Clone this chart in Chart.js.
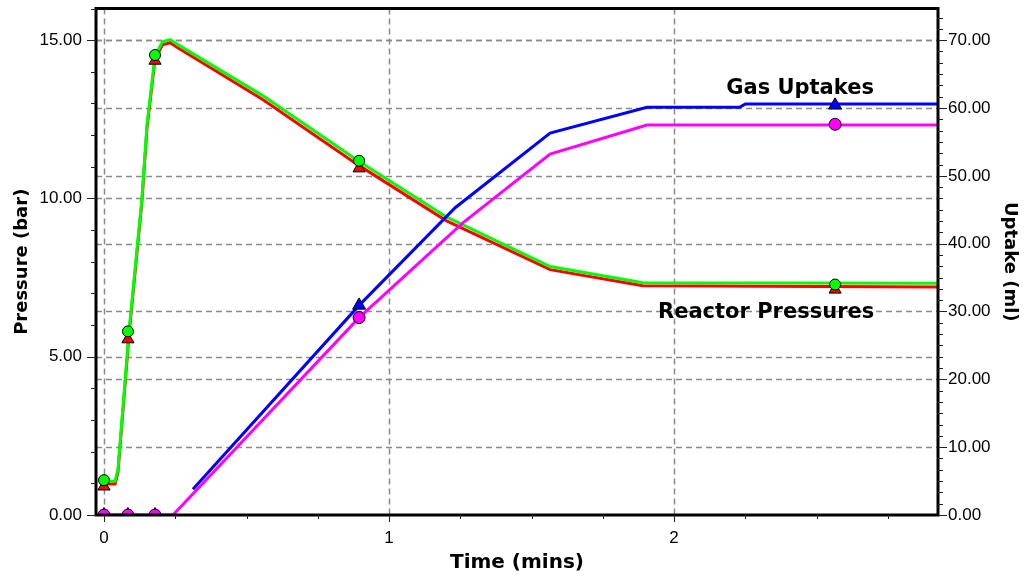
<!DOCTYPE html>
<html>
<head>
<meta charset="utf-8">
<script src="https://cdn.jsdelivr.net/npm/chart.js@4.4.0/dist/chart.umd.min.js"></script>
<style>
  html, body { margin: 0; padding: 0; background: #fff; }
  #contenedor { width: 1026px; height: 578px; }
</style>
</head>
<body>
<div id="contenedor"><canvas id="grafico"></canvas></div>
<script>
// --- Datos ---
// Presión del reactor (bar), eje izquierdo
const tPresion = [0, 0.039, 0.049, 0.088, 0.133, 0.151, 0.179, 0.205, 0.232, 0.26, 0.558, 0.891, 1.2, 1.565, 1.89, 2.926];
const presionVerde = [1.07, 1.07, 1.45, 5.83, 10.0, 12.35, 14.5, 14.95, 15.02, 14.85, 13.24, 11.19, 9.42, 7.85, 7.34, 7.32];
const presionRoja = [0.98, 0.98, 1.35, 5.72, 9.9, 12.25, 14.4, 14.85, 14.92, 14.75, 13.12, 11.06, 9.3, 7.75, 7.24, 7.2];

// Consumo de gas (ml), eje derecho
const tAzul = [0.312, 0.895, 1.232, 1.565, 1.905, 2.23, 2.25, 2.926];
const consumoAzul = [3.8, 30.9, 45.3, 56.3, 60.1, 60.1, 60.6, 60.6];
const tMagenta = [0, 0.242, 0.895, 1.26, 1.565, 1.905, 2.926];
const consumoMagenta = [0, 0, 29.1, 43.1, 53.2, 57.5, 57.5];

// Puntos marcados con símbolo
const tMarcas = [0, 0.084, 0.179, 0.895, 2.565];
const marcasVerde = [1.1, 5.8, 14.53, 11.19, 7.28];
const marcasRoja = [0.9, 5.55, 14.35, 10.95, 7.12];
const marcasAzul = [0, 0, 0, 30.9, 60.4];
const marcasMagenta = [0, 0, 0, 29.1, 57.6];

// Ejes
const ticksMayoresX = [0, 1, 2];
const ticksMayoresPresion = [0, 5, 10, 15];
const ticksMayoresConsumo = [0, 10, 20, 30, 40, 50, 60, 70];
const pasoMenorX = 0.25, pasoMenorPresion = 1, pasoMenorConsumo = 10 / 6;
const rangoX = [-0.0281, 2.926];
const rangoPresion = [0, 16];
const rangoConsumo = [0, 16 * 70 / 15];

const etiquetaGas = { texto: "Gas Uptakes", t: 2.442, v: 62.06 };
const etiquetaReactor = { texto: "Reactor Pressures", t: 2.323, v: 6.21 };

// --- Utilidades ---
const unir = (xs, ys) => xs.map((x, i) => ({ x: x, y: ys[i] }));
const esMayor = (v, lista) => lista.some(m => Math.abs(m - v) < 1e-6);
function generarTicks(paso, min, max) {
    let lista = [];
    for (let i = 0; i * paso <= max + 1e-9; i++) {
        if (i * paso >= min) lista.push(i * paso);
    }
    return lista;
}

const fuenteTicks = { family: "'Liberation Sans', Arial, sans-serif", size: 17 };
const fuenteTitulo = (tam) => ({ family: "'DejaVu Sans', Verdana, sans-serif", size: tam, weight: 'bold' });

// Rejilla, marco, marcas de los ejes y textos
const decoracion = {
    id: 'decoracion',
    beforeDatasetsDraw(chart) {
        const { ctx, chartArea: a, scales } = chart;
        ctx.save();
        ctx.strokeStyle = '#8a8a8a';
        ctx.lineWidth = 1.5;
        ctx.setLineDash([6, 4]);
        ticksMayoresX.forEach(v => {
            let px = Math.round(scales.x.getPixelForValue(v)) + 0.5;
            ctx.beginPath(); ctx.moveTo(px, a.top); ctx.lineTo(px, a.bottom); ctx.stroke();
        });
        ticksMayoresPresion.concat([]).forEach(v => {
            if (v === 0) return;
            let py = Math.round(scales.yPresion.getPixelForValue(v)) + 0.5;
            ctx.beginPath(); ctx.moveTo(a.left, py); ctx.lineTo(a.right, py); ctx.stroke();
        });
        ticksMayoresConsumo.forEach(v => {
            if (v === 0) return;
            let py = Math.round(scales.yConsumo.getPixelForValue(v)) + 0.5;
            ctx.beginPath(); ctx.moveTo(a.left, py); ctx.lineTo(a.right, py); ctx.stroke();
        });
        ctx.restore();
    },
    afterDatasetsDraw(chart) {
        const { ctx, chartArea: a, scales } = chart;
        ctx.save();
        // marco negro
        ctx.strokeStyle = '#000';
        ctx.lineWidth = 3;
        ctx.strokeRect(a.left, a.top, a.right - a.left, a.bottom - a.top);

        // marcas de los ejes
        ctx.lineWidth = 1;
        ctx.strokeStyle = '#222';
        generarTicks(pasoMenorPresion, rangoPresion[0], rangoPresion[1]).forEach(v => {
            let py = Math.round(scales.yPresion.getPixelForValue(v)) + 0.5;
            let largo = esMayor(v, ticksMayoresPresion) ? 9 : 5;
            ctx.beginPath(); ctx.moveTo(a.left - largo, py); ctx.lineTo(a.left, py); ctx.stroke();
        });
        generarTicks(pasoMenorConsumo, rangoConsumo[0], rangoConsumo[1]).forEach(v => {
            let py = Math.round(scales.yConsumo.getPixelForValue(v)) + 0.5;
            let largo = esMayor(v, ticksMayoresConsumo) ? 9 : 5;
            ctx.beginPath(); ctx.moveTo(a.right, py); ctx.lineTo(a.right + largo, py); ctx.stroke();
        });
        generarTicks(pasoMenorX, 0, rangoX[1]).forEach(v => {
            let px = Math.round(scales.x.getPixelForValue(v)) + 0.5;
            let largo = esMayor(v, ticksMayoresX) ? 7 : 4;
            ctx.beginPath(); ctx.moveTo(px, a.bottom); ctx.lineTo(px, a.bottom + largo); ctx.stroke();
        });

        // textos dentro del gráfico
        ctx.fillStyle = '#000';
        ctx.font = "bold 21px 'DejaVu Sans', Verdana, sans-serif";
        ctx.textAlign = 'center';
        ctx.textBaseline = 'alphabetic';
        ctx.fillText(etiquetaGas.texto, scales.x.getPixelForValue(etiquetaGas.t), scales.yConsumo.getPixelForValue(etiquetaGas.v));
        ctx.fillText(etiquetaReactor.texto, scales.x.getPixelForValue(etiquetaReactor.t), scales.yPresion.getPixelForValue(etiquetaReactor.v));
        ctx.restore();
    }
};

function serieLinea(datos, color, eje, orden) {
    return {
        data: datos, yAxisID: eje, borderColor: color, borderWidth: 3,
        pointRadius: 0, tension: 0, fill: false, clip: 0, order: orden
    };
}
function serieMarcas(datos, color, eje, estilo, radio, orden) {
    return {
        data: datos, yAxisID: eje, showLine: false, pointStyle: estilo,
        pointRadius: radio, pointHoverRadius: radio, pointBackgroundColor: color,
        pointBorderColor: '#000', pointBorderWidth: 1, clip: 0, order: orden
    };
}

const ctx = document.getElementById('grafico').getContext('2d');
new Chart(ctx, {
    type: 'line',
    data: {
        datasets: [
            // orden bajo = dibujado encima
            serieMarcas(unir(tMarcas, marcasMagenta), '#ff00ff', 'yConsumo', 'circle', 6, 0),
            serieMarcas(unir(tMarcas, marcasAzul), '#0000ff', 'yConsumo', 'triangle', 7.5, 1),
            serieMarcas(unir(tMarcas, marcasVerde), '#00ff00', 'yPresion', 'circle', 5.5, 2),
            serieMarcas(unir(tMarcas, marcasRoja), '#ff0000', 'yPresion', 'triangle', 7, 3),
            serieLinea(unir(tMagenta, consumoMagenta), '#ff00ff', 'yConsumo', 4),
            serieLinea(unir(tAzul, consumoAzul), '#0000ff', 'yConsumo', 5),
            serieLinea(unir(tPresion, presionVerde), '#00ff00', 'yPresion', 6),
            serieLinea(unir(tPresion, presionRoja), '#ff0000', 'yPresion', 7)
        ]
    },
    options: {
        responsive: true,
        maintainAspectRatio: false,
        devicePixelRatio: 1,
        animation: false,
        events: [],
        layout: { padding: { top: 7, left: 0, right: 0, bottom: 0 } },
        plugins: { legend: { display: false }, tooltip: { enabled: false } },
        scales: {
            x: {
                type: 'linear', position: 'bottom', min: rangoX[0], max: rangoX[1],
                afterBuildTicks: s => { s.ticks = ticksMayoresX.map(v => ({ value: v })); },
                ticks: { autoSkip: false, maxRotation: 0, padding: 13, color: '#000', font: fuenteTicks,
                         callback: v => String(v) },
                grid: { display: false, drawTicks: false },
                border: { display: false },
                title: { display: true, text: 'Time (mins)', color: '#000', font: fuenteTitulo(20), padding: { top: 0, bottom: 3 } },
                afterFit: s => { s.height = 63; s.paddingLeft = 0; s.paddingRight = 0; }
            },
            yPresion: {
                type: 'linear', position: 'left', min: rangoPresion[0], max: rangoPresion[1],
                afterBuildTicks: s => { s.ticks = ticksMayoresPresion.map(v => ({ value: v })); },
                ticks: { autoSkip: false, padding: 14, color: '#000', font: fuenteTicks,
                         callback: v => v.toFixed(2) },
                grid: { display: false, drawTicks: false },
                border: { display: false },
                title: { display: true, text: 'Pressure (bar)', color: '#000', font: fuenteTitulo(18), padding: { top: 12, bottom: 0 } },
                afterFit: s => { s.width = 96; s.paddingTop = 0; s.paddingBottom = 0; }
            },
            yConsumo: {
                type: 'linear', position: 'right', min: rangoConsumo[0], max: rangoConsumo[1],
                afterBuildTicks: s => { s.ticks = ticksMayoresConsumo.map(v => ({ value: v })); },
                ticks: { autoSkip: false, padding: 10, color: '#000', font: fuenteTicks,
                         callback: v => v.toFixed(2) },
                grid: { display: false, drawTicks: false },
                border: { display: false },
                title: { display: true, text: 'Uptake (ml)', color: '#000', font: fuenteTitulo(18), padding: { top: 6, bottom: 0 } },
                afterFit: s => { s.width = 88; s.paddingTop = 0; s.paddingBottom = 0; }
            }
        }
    },
    plugins: [decoracion]
});
</script>
</body>
</html>
